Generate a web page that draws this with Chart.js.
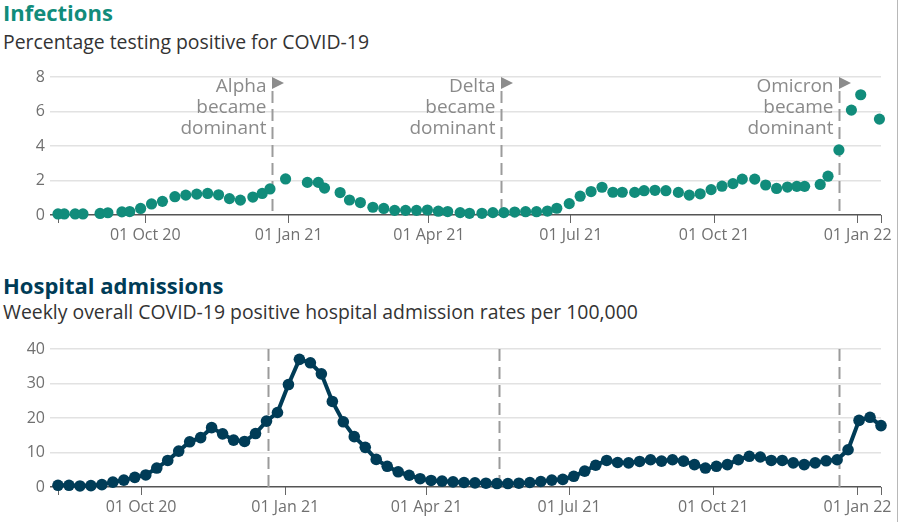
<!DOCTYPE html>
<html>
<head>
<meta charset="utf-8">
<script src="https://cdn.jsdelivr.net/npm/chart.js@4/dist/chart.umd.min.js"></script>
<style>
  body { margin: 0; background: #fff; font-family: "Open Sans", sans-serif; }
  #wrap { position: relative; width: 897px; height: 522px; border-right: 1px solid #b8b8b8; overflow: hidden; }
  .title { position: absolute; left: 3px; font-weight: 700; font-size: 22px; line-height: 1; white-space: nowrap; }
  .sub { position: absolute; left: 3px; font-size: 19.4px; line-height: 1; color: #333; white-space: nowrap; }
  .box { position: absolute; left: 0; width: 897px; }
</style>
</head>
<body>
<div id="wrap">
  <div class="title" style="top:1px;color:#118c7b">Infections</div>
  <div class="sub" style="top:32px">Percentage testing positive for COVID-19</div>
  <div class="box" style="top:60px;height:189px"><canvas id="infChart"></canvas></div>

  <div class="title" style="top:274px;color:#003c57">Hospital admissions</div>
  <div class="sub" style="top:302px">Weekly overall COVID-19 positive hospital admission rates per 100,000</div>
  <div class="box" style="top:330px;height:191px"><canvas id="hospChart"></canvas></div>
</div>

<script>
// Infections: percentage testing positive (irregular survey dates)
const infDates = [
  '2020-08-06', '2020-08-10', '2020-08-17', '2020-08-22', '2020-09-02', '2020-09-07', '2020-09-16', '2020-09-21',
  '2020-09-28', '2020-10-05', '2020-10-12', '2020-10-20', '2020-10-27', '2020-11-03', '2020-11-10', '2020-11-17',
  '2020-11-24', '2020-12-01', '2020-12-09', '2020-12-15', '2020-12-20', '2020-12-30', '2021-01-13', '2021-01-20',
  '2021-01-24', '2021-02-03', '2021-02-09', '2021-02-16', '2021-02-24', '2021-03-03', '2021-03-10', '2021-03-17',
  '2021-03-24', '2021-03-31', '2021-04-07', '2021-04-13', '2021-04-21', '2021-04-27', '2021-05-05', '2021-05-12',
  '2021-05-19', '2021-05-26', '2021-06-02', '2021-06-09', '2021-06-16', '2021-06-22', '2021-06-30', '2021-07-07',
  '2021-07-14', '2021-07-21', '2021-07-28', '2021-08-03', '2021-08-11', '2021-08-17', '2021-08-24', '2021-08-31',
  '2021-09-08', '2021-09-15', '2021-09-22', '2021-09-29', '2021-10-06', '2021-10-13', '2021-10-19', '2021-10-27',
  '2021-11-03', '2021-11-10', '2021-11-17', '2021-11-23', '2021-11-28', '2021-12-08', '2021-12-13', '2021-12-20',
  '2021-12-28', '2022-01-03', '2022-01-15'
];
const infValues = [
  0.06, 0.06, 0.06, 0.06, 0.09, 0.13, 0.18, 0.2,
  0.38, 0.64, 0.79, 1.06, 1.15, 1.21, 1.25, 1.17,
  0.95, 0.86, 1.04, 1.25, 1.51, 2.09, 1.89, 1.89,
  1.56, 1.3, 0.87, 0.72, 0.45, 0.38, 0.27, 0.27,
  0.27, 0.29, 0.22, 0.2, 0.14, 0.1, 0.1, 0.14,
  0.14, 0.17, 0.19, 0.19, 0.23, 0.39, 0.66, 1.09,
  1.36, 1.61, 1.32, 1.32, 1.31, 1.41, 1.43, 1.41,
  1.31, 1.15, 1.23, 1.47, 1.67, 1.82, 2.08, 2.08,
  1.74, 1.54, 1.62, 1.66, 1.66, 1.77, 2.25, 3.77,
  6.08, 6.97, 5.56
];

// Hospital admissions: weekly rate per 100,000
const hospDates = [
  '2020-08-09', '2020-08-16', '2020-08-23', '2020-08-30', '2020-09-06', '2020-09-13', '2020-09-20', '2020-09-27',
  '2020-10-04', '2020-10-11', '2020-10-18', '2020-10-25', '2020-11-01', '2020-11-08', '2020-11-15', '2020-11-22',
  '2020-11-29', '2020-12-06', '2020-12-13', '2020-12-20', '2020-12-27', '2021-01-03', '2021-01-10', '2021-01-17',
  '2021-01-24', '2021-01-31', '2021-02-07', '2021-02-14', '2021-02-21', '2021-02-28', '2021-03-07', '2021-03-14',
  '2021-03-21', '2021-03-28', '2021-04-04', '2021-04-11', '2021-04-18', '2021-04-25', '2021-05-02', '2021-05-09',
  '2021-05-16', '2021-05-23', '2021-05-30', '2021-06-06', '2021-06-13', '2021-06-20', '2021-06-27', '2021-07-04',
  '2021-07-11', '2021-07-18', '2021-07-25', '2021-08-01', '2021-08-08', '2021-08-15', '2021-08-22', '2021-08-29',
  '2021-09-05', '2021-09-12', '2021-09-19', '2021-09-26', '2021-10-03', '2021-10-10', '2021-10-17', '2021-10-24',
  '2021-10-31', '2021-11-07', '2021-11-14', '2021-11-21', '2021-11-28', '2021-12-05', '2021-12-12', '2021-12-19',
  '2021-12-26', '2022-01-02', '2022-01-09', '2022-01-16'
];
const hospValues = [
  0.5, 0.5, 0.3, 0.4, 0.7, 1.4, 2.0, 2.8,
  3.5, 5.5, 7.7, 10.4, 13.1, 14.3, 17.2, 15.4,
  13.6, 13.2, 15.5, 19.1, 21.6, 29.7, 37.0, 36.0,
  32.8, 24.8, 18.9, 14.6, 11.5, 8.0, 6.0, 4.4,
  3.4, 2.4, 1.9, 1.7, 1.5, 1.3, 1.2, 1.1,
  1.0, 1.0, 1.1, 1.3, 1.6, 2.0, 2.2, 3.1,
  4.6, 6.3, 7.7, 7.1, 7.0, 7.4, 7.9, 7.5,
  7.9, 7.5, 6.5, 5.5, 6.0, 6.5, 7.9, 8.9,
  8.7, 7.7, 7.7, 7.0, 6.5, 7.0, 7.6, 7.9,
  10.8, 19.3, 20.2, 17.8
];

// x axis ticks
const xTickDates = ['2020-10-01', '2021-01-01', '2021-04-01', '2021-07-01', '2021-10-01', '2022-01-01'];
const xTickLabels = ['01 Oct 20', '01 Jan 21', '01 Apr 21', '01 Jul 21', '01 Oct 21', '01 Jan 22'];

// variant annotations
const variantDates = ['2020-12-21', '2021-05-17', '2021-12-20'];
const variantNames = ['Alpha', 'Delta', 'Omicron'];

const day = s => Date.parse(s) / 864e5;

const FONT = '"Open Sans", sans-serif';
const GREY_TXT = '#707070';

// dashed lines (+ labels on top chart)
const variantPlugin = {
  id: 'variants',
  beforeDatasetsDraw(chart, args, opts) {
    const { ctx, chartArea, scales: { x } } = chart;
    ctx.save();
    variantDates.forEach((d, i) => {
      const px = Math.round(x.getPixelForValue(day(d))) + 0.5;
      const top = chartArea.top;
      ctx.strokeStyle = '#9b9b9b';
      ctx.lineWidth = 2;
      ctx.setLineDash([12, 6]);
      ctx.beginPath();
      ctx.moveTo(px, opts.labels ? top + 14 : top);
      ctx.lineTo(px, chartArea.bottom);
      ctx.stroke();
      if (opts.labels) {
        ctx.setLineDash([]);
        ctx.fillStyle = '#8c8c8c';
        ctx.beginPath();
        ctx.moveTo(px - 0.5, top);
        ctx.lineTo(px + 11.5, top + 6);
        ctx.lineTo(px - 0.5, top + 12);
        ctx.closePath();
        ctx.fill();
        ctx.font = '19px ' + FONT;
        ctx.textAlign = 'right';
        ctx.textBaseline = 'middle';
        ctx.fillStyle = '#8a8a8a';
        [variantNames[i], 'became', 'dominant'].forEach((t, j) => {
          ctx.fillText(t, px - 6, top + 10 + j * 20.7);
        });
      }
    });
    ctx.restore();
  }
};

function xScale(minDate, maxDate) {
  const vals = [day(minDate), ...xTickDates.map(day), day(maxDate)];
  const labels = ['', ...xTickLabels, ''];
  return {
    type: 'linear',
    min: day(minDate),
    max: day(maxDate),
    afterBuildTicks: s => { s.ticks = vals.map(v => ({ value: v })); },
    afterFit: s => { s.height = 34; },
    border: { display: false },
    grid: { drawOnChartArea: false, drawTicks: true, tickLength: 8, color: '#666', lineWidth: 1 },
    ticks: {
      autoSkip: false, maxRotation: 0, padding: 3,
      font: { family: FONT, size: 16 }, color: GREY_TXT,
      callback: (v, i) => labels[i]
    }
  };
}

function yScale(max, step) {
  return {
    min: 0, max: max,
    afterFit: s => { s.width = 58; },
    border: { display: false },
    grid: {
      color: c => c.tick && c.tick.value === 0 ? '#555' : '#e2e2e2',
      lineWidth: 1.5,
      drawTicks: true, tickLength: 8
    },
    ticks: {
      stepSize: step, padding: 5,
      font: { family: FONT, size: 16 }, color: GREY_TXT
    }
  };
}

Chart.defaults.font.family = FONT;

new Chart(document.getElementById('infChart'), {
  type: 'scatter',
  data: {
    datasets: [{
      data: infDates.map((d, i) => ({ x: day(d), y: infValues[i] })),
      backgroundColor: '#118c7b',
      borderColor: '#118c7b',
      pointRadius: 5.6,
      pointBorderWidth: 0,
      pointHoverRadius: 5.6,
      clip: false
    }]
  },
  options: {
    responsive: true,
    maintainAspectRatio: false,
    animation: false,
    layout: { padding: { top: 17, right: 16, left: 0, bottom: 0 } },
    plugins: { legend: { display: false }, tooltip: { enabled: false }, variants: { labels: true } },
    scales: { x: xScale('2020-08-06', '2022-01-16'), y: yScale(8, 2) }
  },
  plugins: [variantPlugin]
});

new Chart(document.getElementById('hospChart'), {
  type: 'line',
  data: {
    datasets: [{
      data: hospDates.map((d, i) => ({ x: day(d), y: hospValues[i] })),
      borderColor: '#003c57',
      backgroundColor: '#003c57',
      borderWidth: 4,
      pointRadius: 5.8,
      pointBorderWidth: 0,
      pointHoverRadius: 5.8,
      tension: 0,
      clip: false
    }]
  },
  options: {
    responsive: true,
    maintainAspectRatio: false,
    animation: false,
    layout: { padding: { top: 19, right: 16, left: 0, bottom: 0 } },
    plugins: { legend: { display: false }, tooltip: { enabled: false }, variants: { labels: false } },
    scales: { x: xScale('2020-08-09', '2022-01-16'), y: yScale(40, 10) }
  },
  plugins: [variantPlugin]
});
</script>
</body>
</html>
